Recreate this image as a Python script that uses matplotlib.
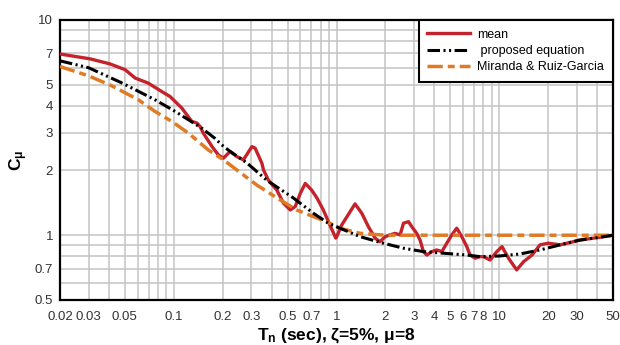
import matplotlib
matplotlib.use('Agg')
import matplotlib.pyplot as plt

plt.rcParams['font.family'] = ['Liberation Sans', 'DejaVu Sans']
plt.rcParams['mathtext.fontset'] = 'custom'
plt.rcParams['mathtext.rm'] = 'Liberation Sans'
plt.rcParams['mathtext.bf'] = 'Liberation Sans:bold'
plt.rcParams['lines.scale_dashes'] = False

# mean of the records
T_mean = [0.02, 0.0306, 0.0406, 0.0502, 0.058, 0.0697, 0.0844, 0.0949, 0.112, 0.129,
          0.139, 0.145, 0.152, 0.172, 0.188, 0.202, 0.222, 0.244, 0.268, 0.302,
          0.316, 0.348, 0.356, 0.382, 0.43, 0.472, 0.52, 0.558, 0.6, 0.643,
          0.704, 0.758, 0.83, 0.89, 0.96, 0.99, 1.0, 1.077, 1.30, 1.43,
          1.57, 1.73, 1.85, 1.99, 2.13, 2.29, 2.46, 2.58, 2.77, 2.90,
          3.11, 3.26, 3.42, 3.59, 3.85, 4.13, 4.44, 4.76, 5.11, 5.48,
          5.89, 6.32, 6.62, 7.11, 7.63, 8.0, 8.79, 9.66, 10.4, 11.4,
          12.8, 14.1, 15.9, 17.8, 20.0, 23.7, 31.4, 41.7, 50.0]
C_mean = [6.95, 6.6, 6.25, 5.88, 5.37, 5.09, 4.65, 4.41, 3.90, 3.38,
          3.32, 3.2, 2.98, 2.58, 2.36, 2.28, 2.45, 2.32, 2.24, 2.58,
          2.54, 2.16, 2.01, 1.80, 1.62, 1.41, 1.31, 1.36, 1.57, 1.74,
          1.62, 1.49, 1.31, 1.16, 1.02, 0.97, 0.98, 1.116, 1.398, 1.265,
          1.096, 0.968, 0.933, 0.984, 1.003, 1.02, 1.003, 1.137, 1.156, 1.096,
          1.02, 0.95, 0.839, 0.809, 0.839, 0.854, 0.839, 0.918, 1.003, 1.078,
          0.984, 0.885, 0.809, 0.782, 0.795, 0.795, 0.767, 0.839, 0.885, 0.782,
          0.69, 0.753, 0.809, 0.902, 0.918, 0.902, 0.95, 0.979, 1.0]

# proposed equation
T_prop = [0.02, 0.03, 0.048, 0.0767, 0.102, 0.149, 0.179, 0.197, 0.222, 0.281,
          0.373, 0.543, 0.721, 0.89, 1.05, 1.40, 1.94, 2.58, 3.42, 4.54,
          6.32, 7.63, 10.1, 13.4, 17.8, 23.7, 31.4, 41.7, 50.0]
C_prop = [6.46, 6.0, 5.1, 4.26, 3.76, 3.14, 2.82, 2.63, 2.45, 2.17,
          1.80, 1.49, 1.265, 1.137, 1.078, 0.984, 0.918, 0.870, 0.839, 0.825,
          0.809, 0.795, 0.801, 0.818, 0.854, 0.902, 0.95, 0.979, 1.0]

# Miranda & Ruiz-Garcia
T_mrg = [0.02, 0.03, 0.0415, 0.0606, 0.0767, 0.0972, 0.123, 0.142, 0.163, 0.202,
         0.244, 0.324, 0.45, 0.57, 0.721, 0.87, 1.05, 1.4, 2.0, 50.0]
C_mrg = [6.08, 5.5, 4.95, 4.26, 3.76, 3.38, 2.98, 2.72, 2.49, 2.24,
         2.01, 1.71, 1.46, 1.31, 1.22, 1.156, 1.078, 1.02, 1.0, 1.0]

x_major = [0.02, 0.03, 0.05, 0.1, 0.2, 0.3, 0.5, 0.7, 1, 2, 3, 4, 5, 6, 7, 8, 10, 20, 30, 50]
x_minor = [0.04, 0.06, 0.07, 0.08, 0.09, 0.4, 0.6, 0.8, 0.9, 9, 40]
y_major = [0.5, 0.7, 1, 2, 3, 4, 5, 7, 10]
y_minor = [0.6, 0.8, 0.9, 6, 8, 9]

fig = plt.figure(figsize=(6.2, 3.45), dpi=100)
ax = fig.add_axes([60/620, 45/345, 553/620, 280/345])

ax.plot(T_mean, C_mean, color='#C4232C', lw=2.4, label='mean', zorder=3)
ax.plot(T_prop, C_prop, color='black', lw=2.2, dashes=(9, 2.5, 1.5, 2.5, 1.5, 2.5),
        label=' proposed equation', zorder=5)
ax.plot(T_mrg, C_mrg, color='#E07B24', lw=2.5, dashes=(11, 3.6, 5, 3.6),
        label='Miranda & Ruiz-Garcia', zorder=4)

ax.set_xscale('log')
ax.set_yscale('log')
ax.set_xlim(0.02, 50)
ax.set_ylim(0.5, 10)

ax.set_xticks(x_major)
ax.set_xticklabels([('%g' % v) for v in x_major])
ax.set_xticks(x_minor, minor=True)
ax.set_yticks(y_major)
ax.set_yticklabels([('%g' % v) for v in y_major])
ax.set_yticks(y_minor, minor=True)
ax.tick_params(which='both', length=0, labelsize=9.5, colors='#333333', pad=5)
ax.tick_params(axis='x', pad=8)

ax.grid(True, which='both', color='#C4C4C4', lw=1.1, zorder=0)
ax.set_axisbelow(True)
for s in ax.spines.values():
    s.set_linewidth(1.6)
    s.set_color('black')

ax.set_xlabel(r'$\mathbf{T_n}$ (sec), ζ=5%, μ=8', fontsize=12.5, fontweight='bold', labelpad=2)
ax.set_ylabel(r'$\mathbf{C_{μ}}$', fontsize=12.5, fontweight='bold')
ax.yaxis.set_label_coords(-0.054, 0.5)

leg = ax.legend(loc='upper right', bbox_to_anchor=(1, 1), borderaxespad=0,
                fontsize=9, handlelength=3.4, handletextpad=0.6,
                labelspacing=0.35, borderpad=0.7, fancybox=False, framealpha=1)
leg.get_frame().set_edgecolor('black')
leg.get_frame().set_linewidth(1.5)
leg.set_zorder(10)

plt.savefig('out.png', dpi=100)
